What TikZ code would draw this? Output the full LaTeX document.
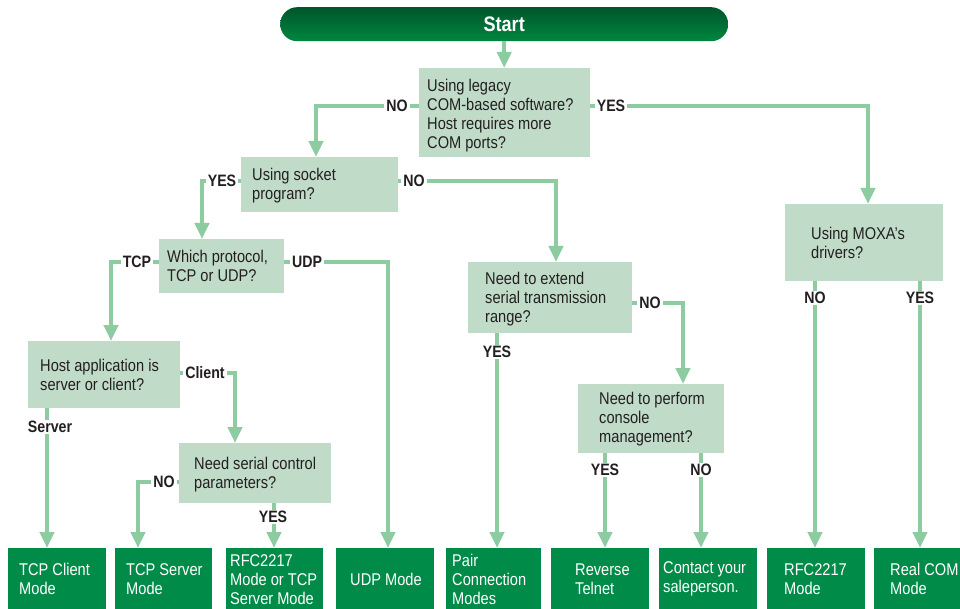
\documentclass[tikz,border=0pt]{standalone}
\usepackage{fontspec}
\setmainfont{Liberation Sans}[FakeStretch=0.86]
\usetikzlibrary{arrows.meta}
\definecolor{qfill}{HTML}{C0DCC8}
\definecolor{lnk}{HTML}{8DCBA0}
\definecolor{term}{HTML}{008C48}
\definecolor{txt}{HTML}{231F20}
\definecolor{stTop}{HTML}{00552B}
\definecolor{stBot}{HTML}{00873F}
\begin{document}
\begin{tikzpicture}[x=1pt,y=-1pt,
  qbox/.style={fill=qfill, inner sep=0pt, anchor=north west},
  qtext/.style={anchor=west, align=left, inner sep=0pt, text=txt, font=\fontsize{17pt}{19pt}\selectfont},
  tbox/.style={fill=term, inner sep=0pt, anchor=north west, minimum height=62pt},
  ttext/.style={anchor=west, align=left, inner sep=0pt, text=white, font=\fontsize{17pt}{19pt}\selectfont},
  conn/.style={draw=lnk, line width=4.5pt},
  arr/.style={conn, -{Triangle[width=14pt,length=16pt]}},
  lbl/.style={fill=white, inner xsep=2pt, inner ysep=1pt, text=txt, font=\bfseries\fontsize{16.5pt}{16.5pt}\selectfont}
]
\useasboundingbox (0,0) rectangle (960,609);

% Start
\node[anchor=north west, inner sep=0pt, minimum width=448pt, minimum height=34pt,
  rounded corners=17pt, top color=stTop, bottom color=stBot, text=white,
  font=\bfseries\fontsize{21pt}{21pt}\selectfont] (start) at (280,7) {Start};

% question boxes
\node[qbox, minimum width=171pt, minimum height=89pt] (q1) at (419,68) {};
\node[qtext] (q1t) at ([xshift=8pt,yshift=-3pt]q1.west) {Using legacy\\COM-based software?\\Host requires more\\COM ports?};
\node[qbox, minimum width=157pt, minimum height=55pt] (q2) at (241,157) {};
\node[qtext] (q2t) at ([xshift=11pt,yshift=-1pt]q2.west) {Using socket\\program?};
\node[qbox, minimum width=125pt, minimum height=54pt] (q3) at (159,239) {};
\node[qtext] (q3t) at ([xshift=8pt]q3.west) {Which protocol,\\TCP or UDP?};
\node[qbox, minimum width=152pt, minimum height=67pt] (q4) at (28,341) {};
\node[qtext] (q4t) at ([xshift=12pt]q4.west) {Host application is\\server or client?};
\node[qbox, minimum width=152pt, minimum height=60pt] (q5) at (179,443) {};
\node[qtext] (q5t) at ([xshift=15pt,yshift=-1pt]q5.west) {Need serial control\\parameters?};
\node[qbox, minimum width=164pt, minimum height=71pt] (q6) at (468,262) {};
\node[qtext] (q6t) at ([xshift=17pt,yshift=-1pt]q6.west) {Need to extend\\serial transmission\\range?};
\node[qbox, minimum width=146pt, minimum height=69pt] (q7) at (578,384) {};
\node[qtext] (q7t) at ([xshift=21pt]q7.west) {Need to perform\\console\\management?};
\node[qbox, minimum width=158pt, minimum height=77pt] (q8) at (785,204) {};
\node[qtext] (q8t) at ([xshift=26pt]q8.west) {Using MOXA's\\drivers?};

% terminal boxes
\node[tbox, minimum width=98pt] (tcpc) at (8,548) {};
\node[ttext] (tcpct) at ([xshift=11pt]tcpc.west) {TCP Client\\Mode};
\node[tbox, minimum width=97pt] (tcps) at (115,548) {};
\node[ttext] (tcpst) at ([xshift=11pt]tcps.west) {TCP Server\\Mode};
\node[tbox, minimum width=97pt] (rfc) at (226,548) {};
\node[ttext] (rfct) at ([xshift=4pt]rfc.west) {RFC2217\\Mode or TCP\\Server Mode};
\node[tbox, minimum width=98pt] (udpm) at (336,548) {};
\node[ttext] (udpmt) at ([xshift=14pt]udpm.west) {UDP Mode};
\node[tbox, minimum width=95pt] (pair) at (446,548) {};
\node[ttext] (pairt) at ([xshift=6pt]pair.west) {Pair\\Connection\\Modes};
\node[tbox, minimum width=98pt] (rev) at (551,548) {};
\node[ttext] (revt) at ([xshift=24pt]rev.west) {Reverse\\Telnet};
\node[tbox, minimum width=98pt] (cont) at (659,548) {};
\node[ttext] (contt) at ([xshift=4pt]cont.west) {Contact your\\saleperson.};
\node[tbox, minimum width=98pt] (rfcm) at (767,548) {};
\node[ttext] (rfcmt) at ([xshift=17pt]rfcm.west) {RFC2217\\Mode};
\node[tbox, minimum width=86pt] (realc) at (874,548) {};
\node[ttext] (realct) at ([xshift=16pt]realc.west) {Real COM\\Mode};

% connectors
\draw[arr] (start.south) -- (start.south |- q1.north);
\coordinate (c1) at (316,106);
\draw[arr] (q1.west |- c1) -- (c1) -- (c1 |- q2.north);
\coordinate (c2) at (868,106);
\draw[arr] (q1.east |- c2) -- (c2) -- (c2 |- q8.north);
\coordinate (c3) at (202,181);
\draw[arr] (q2.west |- c3) -- (c3) -- (c3 |- q3.north);
\coordinate (c4) at (556,181);
\draw[arr] (q2.east |- c4) -- (c4) -- (c4 |- q6.north);
\coordinate (c5) at (111,262);
\draw[arr] (q3.west |- c5) -- (c5) -- (c5 |- q4.north);
\coordinate (c6) at (388,262);
\draw[arr] (q3.east |- c6) -- (c6) -- (c6 |- udpm.north);
\coordinate (c7) at (235,373);
\draw[arr] (q4.east |- c7) -- (c7) -- (c7 |- q5.north);
\coordinate (c8) at (138,482);
\draw[arr] (q5.west |- c8) -- (c8) -- (c8 |- tcps.north);
\coordinate (c9) at (683,303);
\draw[arr] (q6.east |- c9) -- (c9) -- (c9 |- q7.north);
\coordinate (v1) at (47,0);
\draw[arr] (v1 |- q4.south) -- (v1 |- tcpc.north);
\coordinate (v2) at (274,0);
\draw[arr] (v2 |- q5.south) -- (v2 |- rfc.north);
\coordinate (v3) at (497,0);
\draw[arr] (v3 |- q6.south) -- (v3 |- pair.north);
\coordinate (v4) at (605,0);
\draw[arr] (v4 |- q7.south) -- (v4 |- rev.north);
\coordinate (v5) at (701,0);
\draw[arr] (v5 |- q7.south) -- (v5 |- cont.north);
\coordinate (v6) at (815,0);
\draw[arr] (v6 |- q8.south) -- (v6 |- rfcm.north);
\coordinate (v7) at (920,0);
\draw[arr] (v7 |- q8.south) -- (v7 |- realc.north);

% labels
\node[lbl] (l1) at (397,106) {NO};
\node[lbl] (l2) at (611,106) {YES};
\node[lbl] (l3) at (222,181) {YES};
\node[lbl] (l4) at (414,181) {NO};
\node[lbl] (l5) at (137,262) {TCP};
\node[lbl] (l6) at (307,262) {UDP};
\node[lbl] (l7) at (205,373) {Client};
\node[lbl] (l8) at (50,427) {Server};
\node[lbl] (l9) at (164,482) {NO};
\node[lbl] (l10) at (273,517) {YES};
\node[lbl] (l11) at (650,303) {NO};
\node[lbl] (l12) at (497,352) {YES};
\node[lbl] (l13) at (605,470) {YES};
\node[lbl] (l14) at (701,470) {NO};
\node[lbl] (l15) at (815,298) {NO};
\node[lbl] (l16) at (920,298) {YES};
\end{tikzpicture}
\end{document}
